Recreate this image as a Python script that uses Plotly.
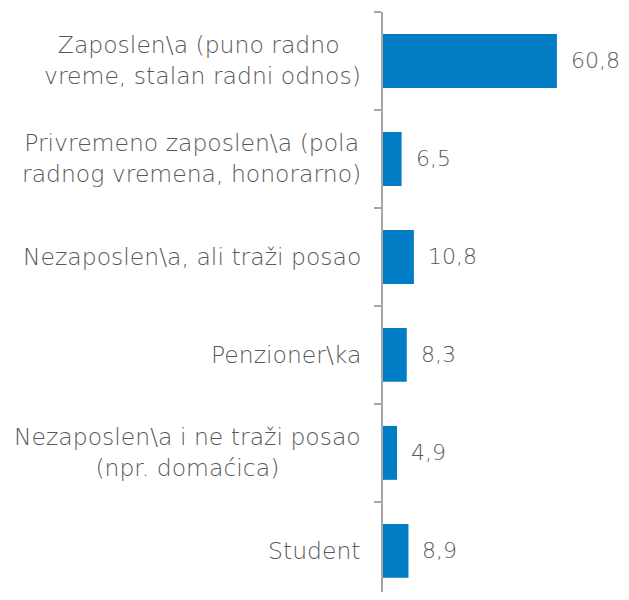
import plotly.graph_objects as go

categories = [
    "Zaposlen\\a (puno radno <br>vreme, stalan radni odnos)",
    "Privremeno zaposlen\\a (pola<br>radnog vremena, honorarno)",
    "Nezaposlen\\a, ali traži posao",
    "Penzioner\\ka",
    "Nezaposlen\\a i ne traži posao<br>(npr. domaćica)",
    "Student",
]
values = [60.8, 6.5, 10.8, 8.3, 4.9, 8.9]
value_labels = ["60,8", "6,5", "10,8", "8,3", "4,9", "8,9"]

FONT = "DejaVu Sans"
GRAY = "#595959"
BLUE = "#007DC5"

fig = go.Figure()
fig.add_trace(go.Bar(
    y=categories, x=values, orientation="h",
    marker=dict(color=BLUE, line=dict(width=0)),
    width=0.55, hoverinfo="skip",
))

annotations = []
for c, v, t in zip(categories, values, value_labels):
    annotations.append(dict(
        x=v, y=c, xref="x", yref="y", text=t, showarrow=False,
        xanchor="left", yanchor="middle", xshift=13, borderpad=0,
        font=dict(family=FONT, size=22, color=GRAY, weight=200),
    ))
    annotations.append(dict(
        x=0, y=c, xref="paper", yref="y", text=c, showarrow=False,
        xanchor="right", yanchor="middle", xshift=-21, align="center",
        borderpad=0,
        font=dict(family=FONT, size=23.5, color=GRAY, weight=200),
    ))

fig.update_layout(
    width=613, height=584,
    margin=dict(l=375, r=0, t=4, b=0),
    paper_bgcolor="white", plot_bgcolor="white",
    showlegend=False,
    annotations=annotations,
    xaxis=dict(range=[0, 83.2], visible=False, fixedrange=True),
    yaxis=dict(
        range=[5.42, -0.5], showticklabels=False,
        showline=True, linecolor="#A6A6A6", linewidth=2,
        ticks="outside", ticklen=7, tickcolor="#A6A6A6", tickwidth=2,
        tickson="boundaries", showgrid=False, zeroline=False,
        fixedrange=True,
    ),
)

fig.write_html("out.html")
